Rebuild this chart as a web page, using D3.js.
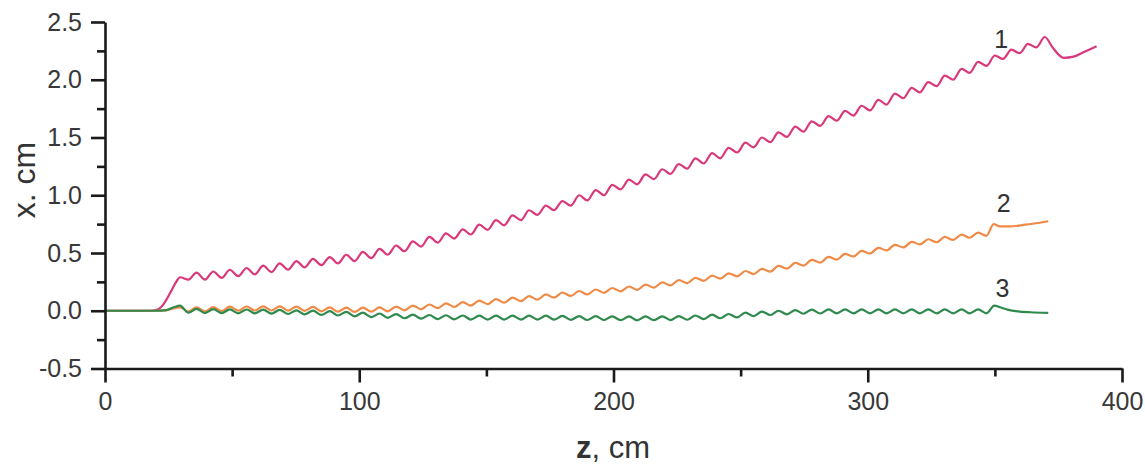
<!DOCTYPE html>
<html><head><meta charset="utf-8">
<script src="https://cdn.jsdelivr.net/npm/d3@7"></script>
<style>html,body{margin:0;padding:0;background:#fff;} svg{display:block;}</style>
</head><body><svg id="chart" width="1145" height="466"></svg>
<script>
// ---- data ----
const xMajorTicks = [0, 100, 200, 300, 400];
const xMinorTicks = [50, 150, 250, 350];
const yMajorTicks = [-0.5, 0, 0.5, 1.0, 1.5, 2.0, 2.5];
const yMinorTicks = [-0.25, 0.25, 0.75, 1.25, 1.75, 2.25];

// z positions of the successive extremes of the oscillation (cm)
const zWave = [
  29.5, 32.8, 36.0, 39.3, 42.6, 45.9, 49.1, 52.4, 55.7, 58.9,
  62.2, 65.5, 68.7, 72.0, 75.3, 78.5, 81.8, 85.1, 88.4, 91.6,
  94.9, 98.2, 101.4, 104.7, 108.0, 111.2, 114.5, 117.8, 121.1, 124.3,
  127.6, 130.9, 134.1, 137.4, 140.7, 143.9, 147.2, 150.5, 153.8, 157.0,
  160.3, 163.6, 166.8, 170.1, 173.4, 176.6, 179.9, 183.2, 186.5, 189.7,
  193.0, 196.3, 199.5, 202.8, 206.1, 209.3, 212.6, 215.9, 219.2, 222.4,
  225.7, 229.0, 232.2, 235.5, 238.8, 242.0, 245.3, 248.6, 251.9, 255.1,
  258.4, 261.7, 264.9, 268.2, 271.5, 274.7, 278.0, 281.3, 284.6, 287.8,
  291.1, 294.4, 297.6, 300.9, 304.2, 307.4, 310.7, 314.0, 317.3, 320.5,
  323.8, 327.1, 330.3, 333.6, 336.9, 340.1, 343.4, 346.7
];

// curve 1 (pink)
const s1LeadZ = [0, 10, 18, 20, 22, 24, 26, 28];
const s1LeadX = [0, 0, 0, 0.005, 0.03, 0.09, 0.17, 0.25];
const s1Wave = [
  0.29, 0.27, 0.33, 0.27, 0.34, 0.285, 0.355, 0.30, 0.37, 0.315,
  0.39, 0.335, 0.41, 0.355, 0.43, 0.375, 0.45, 0.395, 0.465, 0.41,
  0.485, 0.43, 0.51, 0.455, 0.535, 0.485, 0.565, 0.515, 0.60, 0.555,
  0.64, 0.59, 0.67, 0.625, 0.705, 0.66, 0.745, 0.70, 0.785, 0.74,
  0.825, 0.785, 0.87, 0.83, 0.91, 0.87, 0.95, 0.91, 1.00, 0.955,
  1.045, 1.00, 1.09, 1.05, 1.135, 1.095, 1.18, 1.14, 1.225, 1.185,
  1.27, 1.23, 1.32, 1.275, 1.365, 1.32, 1.41, 1.37, 1.455, 1.415,
  1.50, 1.46, 1.545, 1.505, 1.595, 1.55, 1.64, 1.60, 1.685, 1.645,
  1.73, 1.69, 1.775, 1.735, 1.825, 1.785, 1.88, 1.84, 1.93, 1.89,
  1.98, 1.945, 2.035, 2.00, 2.095, 2.06, 2.155, 2.12
];
const s1TailZ = [350.0, 353.2, 356.5, 359.8, 363.0, 366.3, 369.6, 373, 377, 381, 385, 390];
const s1TailX = [2.21, 2.18, 2.26, 2.23, 2.31, 2.28, 2.37, 2.27, 2.19, 2.20, 2.24, 2.29];

// curve 2 (orange)
const s2LeadZ = [0, 10, 20, 24, 27];
const s2LeadX = [0, 0, 0, 0.004, 0.02];
const s2Wave = [
  0.03, -0.007, 0.029, -0.006, 0.032, -0.003, 0.035, 0.001, 0.037, 0.002,
  0.038, 0.002, 0.038, 0.001, 0.036, -0.001, 0.033, -0.005, 0.029, -0.008,
  0.027, -0.01, 0.027, -0.008, 0.029, -0.005, 0.036, 0.004, 0.045, 0.013,
  0.054, 0.023, 0.064, 0.033, 0.074, 0.045, 0.087, 0.058, 0.101, 0.071,
  0.114, 0.084, 0.127, 0.097, 0.141, 0.113, 0.158, 0.128, 0.171, 0.141,
  0.184, 0.155, 0.197, 0.168, 0.21, 0.181, 0.226, 0.20, 0.246, 0.219,
  0.265, 0.239, 0.285, 0.259, 0.304, 0.278, 0.324, 0.298, 0.344, 0.317,
  0.363, 0.339, 0.388, 0.365, 0.414, 0.391, 0.44, 0.417, 0.466, 0.443,
  0.492, 0.47, 0.518, 0.496, 0.545, 0.522, 0.571, 0.548, 0.597, 0.574,
  0.619, 0.593, 0.639, 0.613, 0.659, 0.632, 0.677, 0.649
];
const s2TailZ = [349.5, 352, 356, 362, 367, 371];
const s2TailX = [0.75, 0.73, 0.73, 0.745, 0.76, 0.775];

// curve 3 (green)
const s3LeadZ = [0, 10, 20, 24, 27];
const s3LeadX = [0, 0, 0, 0.005, 0.03];
const s3Wave = [
  0.045, -0.017, 0.016, -0.02, 0.014, -0.021, 0.012, -0.022, 0.011, -0.023,
  0.01, -0.025, 0.008, -0.028, 0.004, -0.031, 0.001, -0.036, -0.004, -0.041,
  -0.01, -0.048, -0.017, -0.055, -0.024, -0.061, -0.029, -0.065, -0.034, -0.069,
  -0.037, -0.072, -0.039, -0.074, -0.041, -0.076, -0.043, -0.077, -0.043, -0.077,
  -0.043, -0.077, -0.043, -0.077, -0.043, -0.077, -0.045, -0.079, -0.046, -0.08,
  -0.047, -0.081, -0.048, -0.082, -0.049, -0.083, -0.049, -0.082, -0.048, -0.081,
  -0.046, -0.078, -0.041, -0.072, -0.034, -0.065, -0.028, -0.058, -0.016, -0.046,
  -0.007, -0.037, 0.0, -0.031, 0.006, -0.026, 0.009, -0.024, 0.012, -0.022,
  0.012, -0.022, 0.012, -0.022, 0.012, -0.022, 0.012, -0.022, 0.012, -0.022,
  0.012, -0.022, 0.012, -0.022, 0.012, -0.022, 0.012, -0.022
];
const s3TailZ = [349.8, 352, 355, 359, 364, 371];
const s3TailX = [0.045, 0.03, 0.01, -0.005, -0.013, -0.018];

const seriesColors = ["#d9387a", "#ef8a47", "#2f8a4c"];
const labelTexts = ["1", "2", "3"];
const labelZ = [352.5, 353.5, 353];
const labelX = [2.35, 0.93, 0.20];

// ---- drawing ----
const svg = d3.select("#chart");
const FONT = "'Liberation Sans', Arial, Helvetica, sans-serif";
const x = d3.scaleLinear().domain([0, 400]).range([105, 1122]);
const y = d3.scaleLinear().domain([-0.5, 2.5]).range([368.5, 22]);

function build(lz, lx, wave, tz, tx) {
  const pts = [];
  lz.forEach((z, i) => pts.push([z, lx[i]]));
  zWave.forEach((z, i) => pts.push([z, wave[i]]));
  tz.forEach((z, i) => pts.push([z, tx[i]]));
  return pts;
}
const series = [
  build(s1LeadZ, s1LeadX, s1Wave, s1TailZ, s1TailX),
  build(s2LeadZ, s2LeadX, s2Wave, s2TailZ, s2TailX),
  build(s3LeadZ, s3LeadX, s3Wave, s3TailZ, s3TailX)
];
const line = d3.line().x(d => x(d[0])).y(d => y(d[1])).curve(d3.curveMonotoneX);

svg.append("g").selectAll("path").data(series).join("path")
  .attr("d", line)
  .attr("fill", "none")
  .attr("stroke", (d, i) => seriesColors[i])
  .attr("stroke-width", 2.2)
  .attr("stroke-linejoin", "round");

function styleAxis(g) {
  g.selectAll(".domain").attr("stroke", "#1a1a1a").attr("stroke-width", 2.6);
  g.selectAll(".tick line").attr("stroke", "#1a1a1a").attr("stroke-width", 2.6);
  g.selectAll(".tick text").attr("fill", "#383838").style("font-family", FONT).style("font-size", "25px");
}

// x axis
const gxMinor = svg.append("g").attr("transform", `translate(0,${y(-0.5)})`)
  .call(d3.axisBottom(x).tickValues(xMinorTicks).tickSize(8).tickSizeOuter(0).tickFormat(""));
gxMinor.select(".domain").remove();
styleAxis(gxMinor);
const gx = svg.append("g").attr("transform", `translate(0,${y(-0.5)})`)
  .call(d3.axisBottom(x).tickValues(xMajorTicks).tickSize(14).tickSizeOuter(0).tickPadding(10).tickFormat(d => String(d)));
styleAxis(gx);

// y axis
const gyMinor = svg.append("g").attr("transform", `translate(${x(0)},0)`)
  .call(d3.axisLeft(y).tickValues(yMinorTicks).tickSize(8).tickSizeOuter(0).tickFormat(""));
gyMinor.select(".domain").remove();
styleAxis(gyMinor);
const gy = svg.append("g").attr("transform", `translate(${x(0)},0)`)
  .call(d3.axisLeft(y).tickValues(yMajorTicks).tickSize(14).tickSizeOuter(0).tickPadding(9).tickFormat(d => d.toFixed(1)));
styleAxis(gy);

// axis titles
svg.append("text")
  .attr("transform", "translate(24,180) rotate(-90)")
  .attr("text-anchor", "middle").attr("dominant-baseline", "central")
  .attr("fill", "#333").style("font-family", FONT).style("font-size", "32px")
  .text("x. cm");
const xt = svg.append("text")
  .attr("x", 613).attr("y", 458).attr("text-anchor", "middle")
  .attr("fill", "#333").style("font-family", FONT).style("font-size", "31px");
xt.append("tspan").attr("font-weight", "bold").text("z");
xt.append("tspan").text(", cm");

// curve labels
svg.append("g").selectAll("text").data(labelTexts).join("text")
  .attr("x", (d, i) => x(labelZ[i])).attr("y", (d, i) => y(labelX[i]))
  .attr("text-anchor", "middle").attr("dominant-baseline", "central")
  .attr("fill", "#333").style("font-family", FONT).style("font-size", "25px")
  .text(d => d);
</script></body></html>
